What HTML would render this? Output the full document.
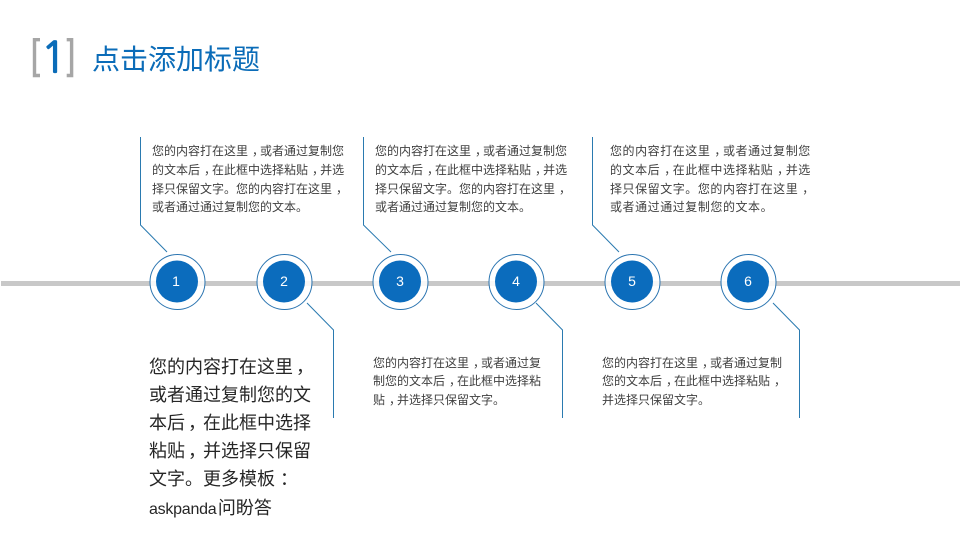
<!DOCTYPE html>
<html lang="zh">
<head>
<meta charset="utf-8">
<style>
html,body{margin:0;padding:0;background:#fff}
#s{position:relative;width:960px;height:540px;overflow:hidden;background:#fff;font-family:"Liberation Sans","Noto Sans CJK SC",sans-serif}
#s svg{position:absolute;left:0;top:0}
.t{position:absolute;white-space:nowrap;font-size:12px;line-height:18.8px;color:#404040}
.b{position:absolute;left:149px;top:352.5px;white-space:nowrap;font-size:18px;line-height:28.2px;color:#262626}
.h{position:absolute;left:92px;top:40px;font-size:28px;line-height:40px;color:#0b6cb8;white-space:nowrap}
i{font-style:normal;position:relative;left:4px}
.b i{left:3px}
.b i.c{left:5px}
.l{font-size:16px;letter-spacing:-.25px;margin-right:1.5px}
</style>
</head>
<body>
<div id="s">
<svg width="960" height="540" viewBox="0 0 960 540">
  <path d="M40 39.7H34.5V75.5H40" fill="none" stroke="#a6a6a6" stroke-width="3.4"/>
  <path d="M66.7 39.7H71.6V75.5H66.7" fill="none" stroke="#a6a6a6" stroke-width="3.4"/>
  <text x="41" y="72.3" font-family="NanumGothic, sans-serif" font-size="42" fill="#0b6cb8" stroke="#0b6cb8" stroke-width="1.3">1</text>
  <rect x="1" y="281" width="959" height="5" fill="#c8c8c8"/>
  <g fill="none" stroke="#2a7ab0" stroke-width="1">
    <path d="M140.5 137V225L167 252"/>
    <path d="M363.5 137V225L391 252"/>
    <path d="M592.5 137V225L619 252"/>
    <path d="M307 303L333.5 330V418"/>
    <path d="M536 303L562.5 330V418"/>
    <path d="M773 303L799.5 330V418"/>
  </g>
  <g fill="#fff" fill-opacity="0.85" stroke="#2a74b0" stroke-width="1">
    <circle cx="177.5" cy="282" r="27.5"/>
    <circle cx="284.5" cy="282" r="27.5"/>
    <circle cx="400.5" cy="282" r="27.5"/>
    <circle cx="516.5" cy="282" r="27.5"/>
    <circle cx="632.5" cy="282" r="27.5"/>
    <circle cx="748.5" cy="282" r="27.5"/>
  </g>
  <g fill="#0b6cbd">
    <circle cx="177" cy="281.5" r="21"/>
    <circle cx="284" cy="281.5" r="21"/>
    <circle cx="400" cy="281.5" r="21"/>
    <circle cx="516" cy="281.5" r="21"/>
    <circle cx="632" cy="281.5" r="21"/>
    <circle cx="748" cy="281.5" r="21"/>
  </g>
  <g fill="#fff" font-family="Liberation Sans, sans-serif" font-size="14" text-anchor="middle">
    <text x="176" y="286">1</text>
    <text x="284" y="286">2</text>
    <text x="400" y="286">3</text>
    <text x="516" y="286">4</text>
    <text x="632" y="286">5</text>
    <text x="748" y="286">6</text>
  </g>
</svg>
<div class="h">点击添加标题</div>
<div class="t" style="left:152px;top:142px">您的内容打在这里<i>，</i>或者通过复制您<br>的文本后<i>，</i>在此框中选择粘贴<i>，</i>并选<br>择只保留文字。您的内容打在这里<i>，</i><br>或者通过通过复制您的文本。</div>
<div class="t" style="left:375px;top:142px">您的内容打在这里<i>，</i>或者通过复制您<br>的文本后<i>，</i>在此框中选择粘贴<i>，</i>并选<br>择只保留文字。您的内容打在这里<i>，</i><br>或者通过通过复制您的文本。</div>
<div class="t" style="left:610px;top:142px;letter-spacing:.55px">您的内容打在这里<i>，</i>或者通过复制您<br>的文本后<i>，</i>在此框中选择粘贴<i>，</i>并选<br>择只保留文字。您的内容打在这里<i>，</i><br>或者通过通过复制您的文本。</div>
<div class="t" style="left:373px;top:353.5px">您的内容打在这里<i>，</i>或者通过复<br>制您的文本后<i>，</i>在此框中选择粘<br>贴<i>，</i>并选择只保留文字。</div>
<div class="t" style="left:602px;top:353.5px">您的内容打在这里<i>，</i>或者通过复制<br>您的文本后<i>，</i>在此框中选择粘贴<i>，</i><br>并选择只保留文字。</div>
<div class="b">您的内容打在这里<i>，</i><br>或者通过复制您的文<br>本后<i>，</i>在此框中选择<br>粘贴<i>，</i>并选择只保留<br>文字。更多模板<i class="c">：</i><br><span class="l">askpanda</span>问盼答</div>
</div>
</body>
</html>
